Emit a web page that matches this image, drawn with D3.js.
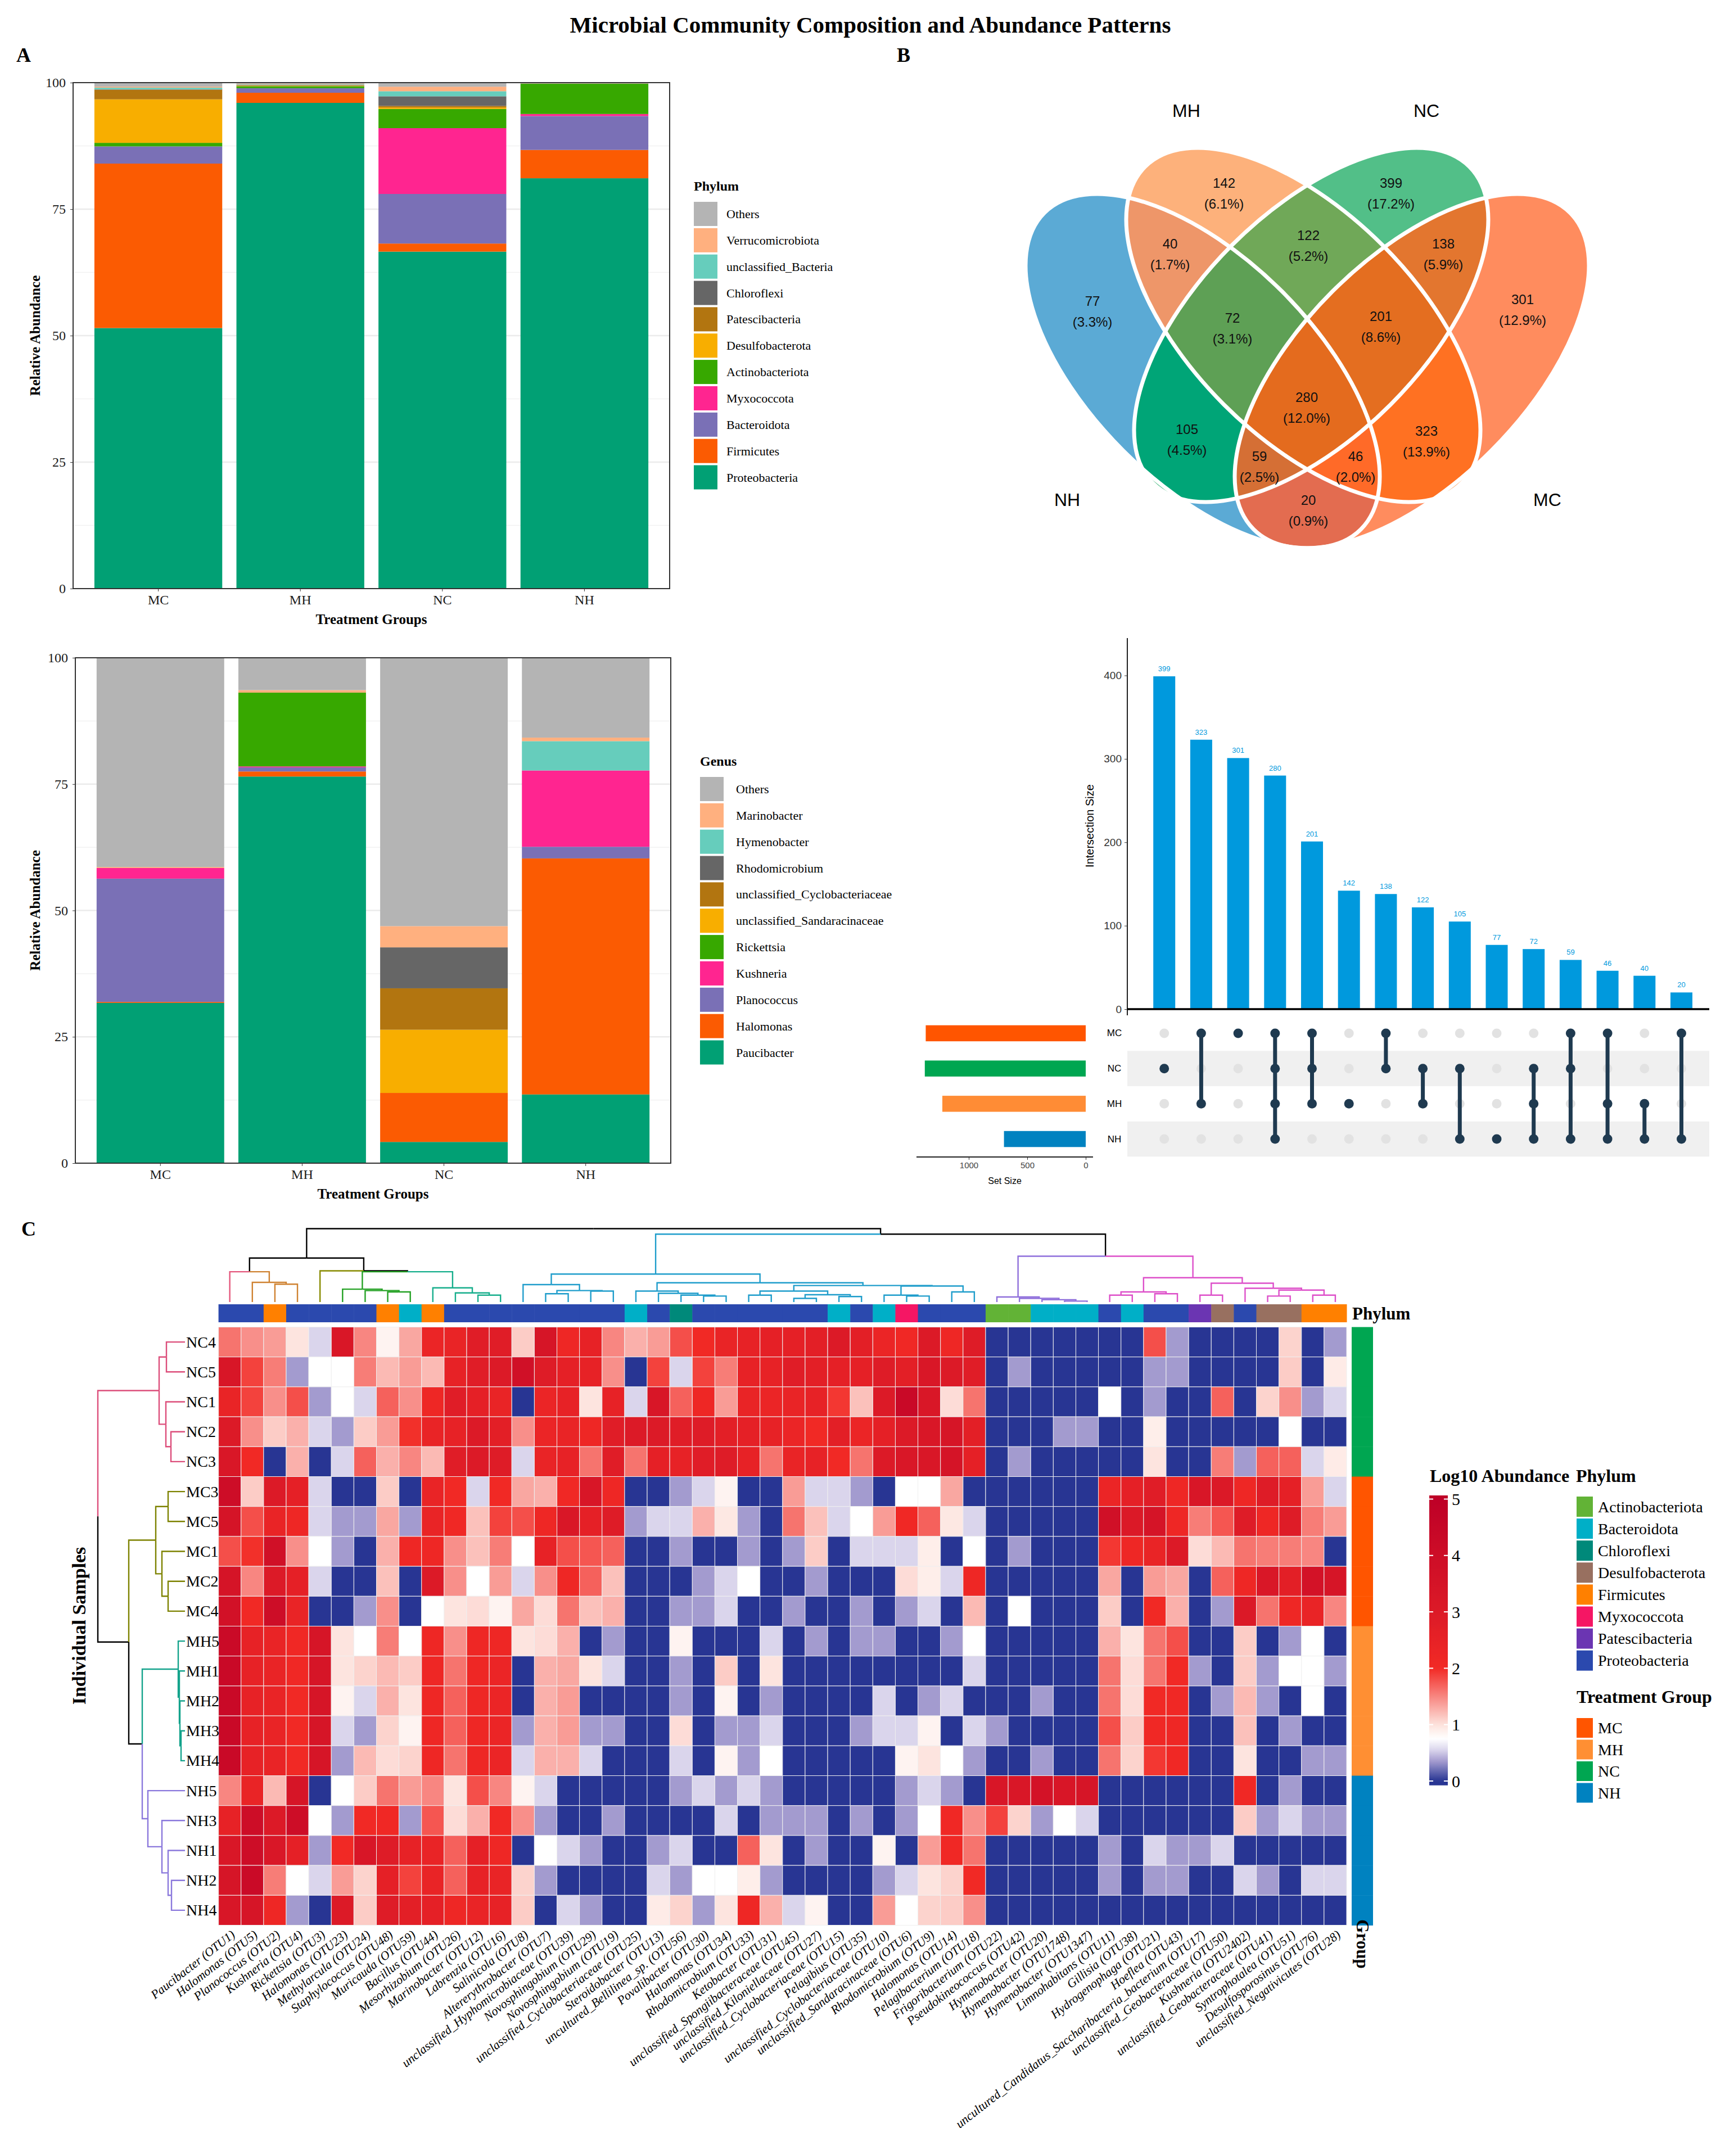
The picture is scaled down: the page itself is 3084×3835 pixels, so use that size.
<!DOCTYPE html>
<html>
<head>
<meta charset="utf-8">
<script src="https://cdn.jsdelivr.net/npm/d3@7"></script>
<style>
body { margin: 0; background: #fff; }
svg { display: block; }
</style>
</head>
<body>
<script>
// ---------------- data ----------------
const groups = ["MC", "MH", "NC", "NH"];

// phylum relative abundance (%), order MC, MH, NC, NH
const pProteobacteria = [51.5, 96.0, 66.6, 81.1];
const pFirmicutes = [32.5, 2.0, 1.6, 5.6];
const pBacteroidota = [3.4, 0.9, 9.8, 6.7];
const pMyxococcota = [0.0, 0.0, 13.0, 0.4];
const pActinobacteriota = [0.7, 0.4, 3.8, 6.0];
const pDesulfobacterota = [8.6, 0.1, 0.3, 0.0];
const pPatescibacteria = [1.9, 0.1, 0.3, 0.0];
const pChloroflexi = [0.1, 0.1, 1.9, 0.0];
const pUnclassifiedBacteria = [0.3, 0.1, 1.0, 0.0];
const pVerrucomicrobiota = [0.2, 0.1, 0.9, 0.05];
const pOthers = [0.8, 0.2, 0.8, 0.15];

// genus relative abundance (%)
const gPaucibacter = [31.7, 76.5, 4.2, 13.6];
const gHalomonas = [0.2, 1.0, 9.7, 46.7];
const gPlanococcus = [24.4, 0.8, 0.0, 2.3];
const gKushneria = [2.1, 0.2, 0.0, 15.1];
const gRickettsia = [0.0, 14.6, 0.0, 0.0];
const gSandaracinaceae = [0.0, 0.0, 12.5, 0.0];
const gCyclobacteriaceae = [0.0, 0.0, 8.2, 0.0];
const gRhodomicrobium = [0.0, 0.0, 8.1, 0.0];
const gHymenobacter = [0.0, 0.0, 0.0, 5.8];
const gMarinobacter = [0.2, 0.5, 4.2, 0.7];
const gOthers = [41.4, 6.4, 53.1, 15.8];

const stackPalette = ["#01A074", "#FB5B02", "#7A70B6", "#FF2590", "#37A800", "#F8AE00",
                      "#B27510", "#666666", "#66CDBC", "#FFB07F", "#B4B4B4"];

// venn / upset
const vennRegions = ["NH", "MH", "NC", "MC", "NH&MH", "MH&NC", "NC&MC", "NH&MH&NC", "MH&NC&MC",
                     "NH&NC", "MH&MC", "NH&MH&NC&MC", "NH&NC&MC", "NH&MH&MC", "NH&MC"];
const vennCounts = [77, 142, 399, 301, 40, 122, 138, 72, 201, 105, 323, 280, 59, 46, 20];
const vennFills = ["#5BAAD5", "#FDB17B", "#52BF88", "#FF8C5E", "#EE9669", "#70A858", "#E3762F", "#5EA055",
                   "#E46E20", "#00A577", "#FF7122", "#E46B1E", "#D56F35", "#FF6A28", "#E36C50"];

const upsetSizes = [399, 323, 301, 280, 201, 142, 138, 122, 105, 77, 72, 59, 46, 40, 20];
const upsetMembers = [["NC"], ["MC", "MH"], ["MC"], ["MC", "NC", "MH", "NH"], ["MC", "NC", "MH"], ["MH"],
                      ["MC", "NC"], ["NC", "MH"], ["NC", "NH"], ["NH"], ["NC", "MH", "NH"], ["MC", "NC", "NH"],
                      ["MC", "MH", "NH"], ["MH", "NH"], ["MC", "NH"]];
const setNames = ["MC", "NC", "MH", "NH"];
const setSizes = [1368, 1376, 1226, 699];
const setColors = ["#FF5500", "#00A651", "#FF8C35", "#0082C0"];

// heatmap
const sampleNames = ["NC4", "NC5", "NC1", "NC2", "NC3", "MC3", "MC5", "MC1", "MC2", "MC4",
                     "MH5", "MH1", "MH2", "MH3", "MH4", "NH5", "NH3", "NH1", "NH2", "NH4"];
const otuLabels = ["Paucibacter (OTU1)", "Halomonas (OTU5)", "Planococcus (OTU2)", "Kushneria (OTU4)", "Rickettsia (OTU3)",
  "Halomonas (OTU23)", "Methylarcula (OTU24)", "Staphylococcus (OTU48)", "Muricauda (OTU59)", "Bacillus (OTU44)",
  "Mesorhizobium (OTU26)", "Marinobacter (OTU12)", "Labrenzia (OTU16)", "Salinicola (OTU8)", "Altererythrobacter (OTU7)",
  "unclassified_Hyphomicrobiaceae (OTU39)", "Novosphingobium (OTU29)", "Novosphingobium (OTU19)",
  "unclassified_Cyclobacteriaceae (OTU25)", "Steroidobacter (OTU13)", "uncultured_Bellilinea_sp. (OTU56)",
  "Povalibacter (OTU30)", "Halomonas (OTU34)", "Rhodomicrobium (OTU33)", "Ketobacter (OTU31)",
  "unclassified_Spongiibacteraceae (OTU45)", "unclassified_Kiloniellaceae (OTU27)", "unclassified_Cyclobacteriaceae (OTU15)",
  "Pelagibius (OTU35)", "unclassified_Cyclobacteriaceae (OTU10)", "unclassified_Sandaracinaceae (OTU6)",
  "Rhodomicrobium (OTU9)", "Halomonas (OTU14)", "Pelagibacterium (OTU18)", "Frigoribacterium (OTU22)",
  "Pseudokineococcus (OTU42)", "Hymenobacter (OTU20)", "Hymenobacter (OTU1748)", "Hymenobacter (OTU1347)",
  "Limnohabitans (OTU11)", "Gillisia (OTU38)", "Hydrogenophaga (OTU21)", "Hoeflea (OTU43)",
  "uncultured_Candidatus_Saccharibacteria_bacterium (OTU17)", "unclassified_Geobacteraceae (OTU50)",
  "Kushneria (OTU2402)", "unclassified_Geobacteraceae (OTU41)", "Syntrophotalea (OTU51)",
  "Desulfosporosinus (OTU76)", "unclassified_Negativicutes (OTU28)"];
const otuPhylum = ["Proteobacteria", "Proteobacteria", "Firmicutes", "Proteobacteria", "Proteobacteria",
  "Proteobacteria", "Proteobacteria", "Firmicutes", "Bacteroidota", "Firmicutes",
  "Proteobacteria", "Proteobacteria", "Proteobacteria", "Proteobacteria", "Proteobacteria",
  "Proteobacteria", "Proteobacteria", "Proteobacteria", "Bacteroidota", "Proteobacteria",
  "Chloroflexi", "Proteobacteria", "Proteobacteria", "Proteobacteria", "Proteobacteria",
  "Proteobacteria", "Proteobacteria", "Bacteroidota", "Proteobacteria", "Bacteroidota",
  "Myxococcota", "Proteobacteria", "Proteobacteria", "Proteobacteria", "Actinobacteriota",
  "Actinobacteriota", "Bacteroidota", "Bacteroidota", "Bacteroidota", "Proteobacteria",
  "Bacteroidota", "Proteobacteria", "Proteobacteria", "Patescibacteria", "Desulfobacterota",
  "Proteobacteria", "Desulfobacterota", "Desulfobacterota", "Firmicutes", "Firmicutes"];

// log10 abundance, one row per sample (sampleNames order), one value per OTU (otuLabels order)
const log10Abundance = [
  [1.6, 1.45, 1.38, 0.98, 0.55, 3.2, 1.5, 0.85, 1.32, 2.3, 2.4, 2.8, 2.8, 1.12, 3.4, 2.2, 2.5, 1.5, 1.27, 1.38, 1.8, 2.05, 2.4, 2.5, 2.6, 2.6, 2.7, 3.0, 2.7, 2.3, 2.1, 3.0, 2.2, 2.9, 0, 0, 0, 0, 0, 0, 0, 1.8, 0.35, 0, 0, 0, 0, 1.08, 0, 0.35],
  [3.3, 1.87, 1.55, 0.35, 0.75, 0.75, 1.55, 1.22, 1.38, 1.22, 2.5, 2.8, 3.0, 3.8, 2.9, 2.6, 2.5, 1.45, 0, 1.87, 0.55, 1.87, 1.55, 2.5, 2.5, 2.8, 2.7, 2.6, 2.6, 2.9, 2.7, 3.2, 3.0, 2.8, 0, 0.35, 0, 0, 0, 0, 0, 0.35, 0.35, 0, 0, 0, 0, 1.12, 0, 0.92],
  [2.4, 1.87, 1.45, 1.8, 0.35, 0.75, 0.55, 1.7, 1.45, 2.2, 2.8, 2.6, 2.4, 0, 2.3, 2.5, 0.98, 2.5, 0.55, 3.3, 1.7, 2.2, 1.38, 2.4, 2.3, 2.4, 2.5, 1.93, 1.18, 3.0, 4.3, 3.2, 1.03, 1.6, 0, 0, 0, 0, 0, 0.75, 0, 0.35, 0, 0, 1.7, 0, 1.08, 1.45, 0.35, 0.55],
  [3.0, 1.45, 1.12, 1.27, 0.55, 0.35, 1.12, 1.38, 1.97, 2.4, 2.5, 3.0, 2.7, 1.45, 2.3, 2.4, 2.2, 2.8, 3.0, 3.0, 2.8, 2.9, 2.7, 2.6, 2.5, 2.3, 2.05, 2.7, 2.3, 2.6, 3.0, 3.2, 3.4, 2.7, 0, 0, 0, 0.35, 0.35, 0, 0, 0.9, 0, 0, 0, 0, 0, 0.75, 0, 0],
  [3.2, 2.05, 0, 1.27, 0, 0.55, 1.7, 1.27, 1.5, 1.22, 2.8, 3.0, 2.9, 0.55, 2.4, 2.5, 1.6, 2.8, 1.6, 2.6, 2.5, 2.8, 2.9, 2.5, 1.6, 2.4, 2.5, 2.05, 1.6, 3.0, 3.2, 3.2, 3.5, 2.6, 0, 0.35, 0, 0, 0, 0, 0, 0.98, 0, 0, 1.55, 0.35, 1.7, 1.7, 0.55, 0.92],
  [4.0, 1.12, 3.0, 2.6, 0.55, 0, 0, 1.12, 0, 2.4, 2.05, 0.55, 2.05, 1.32, 1.27, 2.1, 3.3, 2.2, 0, 0, 0.35, 0.55, 0.85, 0, 0, 1.38, 0.55, 0.55, 0.35, 0, 0.75, 0.75, 1.32, 0, 0, 0, 0, 0, 0, 2.3, 2.6, 2.8, 2.2, 3.3, 3.1, 2.2, 2.9, 2.6, 1.38, 0.55],
  [3.5, 1.8, 2.4, 2.2, 0.55, 0.35, 0.35, 1.32, 0.35, 2.4, 2.1, 1.18, 1.87, 1.8, 2.2, 3.2, 2.6, 2.9, 0.35, 0.55, 0.55, 1.27, 0.95, 0.35, 0, 1.6, 1.18, 0.55, 0.75, 1.38, 2.1, 1.7, 0.95, 0.55, 0, 0, 0, 0, 0, 3.8, 3.1, 3.5, 2.2, 1.55, 1.76, 2.9, 2.2, 2.9, 1.55, 1.38],
  [1.8, 1.97, 3.8, 1.45, 0.75, 0.35, 0, 1.27, 2.2, 2.2, 1.45, 1.18, 1.55, 0.75, 2.5, 1.8, 1.76, 1.7, 0, 0, 0.35, 0, 0, 0.35, 0, 0.35, 1.12, 0, 0.55, 0.55, 0.55, 0.9, 0, 0.75, 0, 0.35, 0, 0, 0, 1.93, 2.2, 2.4, 3.0, 1.03, 1.22, 1.6, 1.55, 1.55, 1.5, 0],
  [3.5, 1.5, 3.0, 2.6, 0.55, 0, 0, 1.18, 0, 3.0, 1.45, 0.75, 1.38, 0.55, 1.45, 2.2, 1.7, 1.18, 0, 0, 0, 0.35, 0.55, 0.75, 0, 0, 0.35, 0, 0, 0, 1.03, 0.9, 0.55, 2.2, 0, 0, 0, 0, 0, 1.32, 0, 1.38, 1.32, 0, 1.7, 2.2, 3.2, 2.7, 3.6, 3.4],
  [3.7, 2.05, 4.0, 2.4, 0, 0, 0.35, 1.45, 0, 0.75, 0.98, 1.03, 0.85, 1.32, 1.03, 1.6, 1.18, 1.27, 0, 0, 0.35, 0.35, 0.55, 0, 0, 0.35, 0, 0, 0.35, 0, 0.35, 0.55, 0, 1.22, 0, 0.75, 0, 0, 0, 1.12, 0, 2.05, 1.27, 0, 0.35, 3.1, 1.6, 2.2, 2.4, 1.5],
  [4.2, 2.5, 2.4, 2.1, 3.4, 0.98, 0.75, 1.55, 0.75, 2.2, 1.45, 2.2, 2.2, 0.98, 1.03, 1.27, 0, 0.35, 0, 0, 0.85, 0, 0, 0, 0.55, 0, 0.35, 0, 0.35, 0.35, 0, 0, 0.35, 0.75, 0, 0, 0, 0, 0, 1.27, 0.98, 1.6, 1.8, 0, 0, 1.12, 0, 0.35, 0.75, 0],
  [4.3, 2.5, 2.4, 2.1, 3.4, 0.98, 1.08, 1.22, 1.12, 2.2, 1.6, 2.2, 2.3, 0, 1.27, 1.32, 0.98, 0.55, 0, 0, 0.35, 0, 1.12, 0, 0.98, 0, 0, 0, 0, 0, 0, 0, 0, 0.55, 0, 0, 0, 0, 0, 1.6, 1.03, 1.6, 2.05, 0.35, 0, 1.12, 0.35, 0.75, 0.75, 0.35],
  [4.3, 2.5, 2.4, 2.05, 3.4, 0.85, 0.55, 1.27, 0.98, 2.2, 1.7, 2.2, 2.3, 0, 1.27, 1.38, 0, 0, 0, 0, 0.35, 0, 0.85, 0, 0.35, 0, 0, 0, 0, 0.55, 0, 0.35, 0.55, 0, 0, 0, 0.35, 0, 0, 1.6, 1.03, 2.05, 2.1, 0, 0.35, 1.22, 0.35, 0, 0.75, 0],
  [4.3, 2.5, 2.4, 2.05, 3.4, 0.55, 0.35, 1.08, 0.85, 2.2, 1.7, 2.2, 2.3, 0.35, 1.27, 1.38, 0.35, 0.35, 0, 0, 1.03, 0, 0.35, 0.35, 0.55, 0, 0, 0, 0.35, 0.55, 0.55, 0.85, 0, 0.55, 0.35, 0, 0, 0, 0, 1.8, 1.12, 2.1, 2.2, 0, 0, 1.18, 0, 0.35, 0, 0],
  [4.3, 2.5, 2.4, 2.05, 3.4, 0.35, 1.22, 1.03, 1.08, 2.2, 1.6, 2.2, 2.3, 0.55, 1.27, 1.27, 0.55, 0, 0, 0, 0.55, 0, 0.85, 0.35, 0.75, 0, 0, 0, 0, 0, 0.85, 0.98, 0.75, 0.35, 0, 0, 0.35, 0, 0, 1.6, 1.08, 1.93, 2.1, 0, 0, 0.98, 0, 0, 0.35, 0.35],
  [1.5, 2.4, 1.22, 3.4, 0, 0.75, 1.12, 1.6, 1.38, 1.5, 0.98, 1.8, 1.5, 0.85, 0.55, 0, 0, 0, 0, 0, 0.35, 0.55, 0.35, 0.55, 0.35, 0, 0, 0, 0, 0, 0.35, 0.55, 0.35, 0, 3.3, 3.2, 3.6, 3.3, 3.4, 0, 0, 0, 0, 0, 0, 2.1, 0, 0.35, 0, 0],
  [2.5, 4.0, 3.0, 4.0, 0.75, 0.35, 2.05, 2.1, 0.35, 1.76, 1.03, 1.27, 2.05, 1.45, 0.35, 0, 0, 0.35, 0, 0, 0, 0, 0.55, 0, 0.35, 0.35, 0.35, 0, 0.35, 0, 0.35, 0.75, 2.1, 1.45, 1.87, 1.08, 0.35, 0.75, 0.55, 0, 0, 0, 0, 0, 0, 1.12, 0.35, 0.55, 0.35, 0.35],
  [3.2, 4.0, 3.2, 2.6, 0.35, 2.05, 3.3, 2.9, 2.5, 2.4, 1.7, 2.6, 2.2, 0, 0.75, 0.55, 0.35, 0, 0, 0.35, 0.55, 0, 0, 1.7, 0.98, 0, 0.35, 0, 0, 0.85, 0, 1.38, 2.1, 1.6, 0, 0, 0, 0, 0, 0.35, 0, 0.55, 0.35, 0.35, 0.55, 0, 0, 0, 0, 0],
  [3.4, 4.2, 1.55, 0.75, 0.55, 1.38, 1.08, 2.6, 1.87, 2.4, 1.7, 2.5, 2.4, 1.08, 0.35, 0, 0, 0, 0, 0.55, 0.35, 0.75, 0.75, 0.9, 0.35, 0, 0, 0, 0, 0.35, 0.55, 0.98, 1.08, 2.05, 0, 0, 0, 0, 0, 0.35, 0, 0.35, 0.35, 0, 0, 0.55, 0.35, 0, 0.55, 0.55],
  [3.3, 3.4, 2.2, 0.35, 0, 3.0, 1.12, 2.9, 2.7, 2.6, 2.2, 2.4, 2.5, 1.12, 0, 0.55, 0.35, 0, 0, 0.92, 1.08, 0.35, 0.98, 2.2, 1.27, 0.55, 0.85, 0, 0, 1.38, 0.75, 1.08, 1.12, 1.45, 0, 0, 0, 0, 0, 0, 0, 0, 0, 0, 0, 0, 0, 0, 0, 0]
];

// clustering trees (h = merge height)
const colTree = {h: 160, c: [
  {h: 96, c: [
    {h: 66, c: [0, {h: 43, c: [1, {h: 39, c: [2, 3]}]}]},
    {h: 68, c: [4, {h: 66, c: [
      {h: 28, c: [5, {h: 25, c: [6, {h: 22, c: [7, 8]}]}]},
      {h: 31, c: [9, {h: 20, c: [10, {h: 15, c: [11, 12]}]}]}]}]}]},
  {h: 148, c: [
    {h: 61, c: [
      {h: 38, c: [13, {h: 25, c: [{h: 18, c: [14, 15]}, {h: 24, c: [16, 17]}]}]},
      {h: 42, c: [
        {h: 24, c: [18, {h: 19, c: [19, {h: 15, c: [20, {h: 13, c: [21, 22]}]}]}]},
        {h: 36, c: [
          {h: 24, c: [{h: 15, c: [23, 24]}, {h: 16, c: [{h: 8, c: [25, 26]}, {h: 12, c: [27, 28]}]}]},
          {h: 35, c: [{h: 15, c: [29, {h: 13, c: [30, 31]}]}, {h: 22, c: [32, 33]}]}]}]}]},
    {h: 100, c: [
      {h: 11, c: [34, {h: 8, c: [35, {h: 5, c: [36, {h: 2, c: [37, 38]}]}]}]},
      {h: 53, c: [
        {h: 22, c: [{h: 15, c: [39, 40]}, {h: 18, c: [41, 42]}]},
        {h: 41, c: [{h: 15, c: [43, 44]}, {h: 30, c: [45, {h: 26, c: [{h: 13, c: [46, 47]}, {h: 15, c: [48, 49]}]}]}]}]}]}]}]};
const colCluster = [0, 1, 1, 1, 2, 3, 3, 3, 3, 4, 4, 4, 4, 5, 5, 5, 5, 5, 5, 5, 5, 5, 5, 5, 5, 5, 5, 5, 5, 5, 5, 5, 5, 5,
                    6, 6, 6, 6, 6, 7, 7, 7, 7, 7, 7, 7, 7, 7, 7, 7];
const colClusterColors = ["#E4577C", "#CF8231", "#878A00", "#24A124", "#16AE8C", "#1F9DCB", "#8F6FDB", "#DD4FC9"];

const rowTree = {h: 155, c: [
  {h: 46, c: [{h: 33, c: ["NC4", "NC5"]}, {h: 34, c: ["NC1", {h: 25, c: ["NC2", "NC3"]}]}]},
  {h: 100, c: [
    {h: 52, c: [{h: 30, c: ["MC3", "MC5"]}, {h: 41, c: ["MC1", {h: 30, c: ["MC2", "MC4"]}]}]},
    {h: 76, c: [
      {h: 12, c: ["MH5", {h: 10, c: ["MH1", {h: 9, c: ["MH2", {h: 7, c: ["MH3", "MH4"]}]}]}]},
      {h: 66, c: ["NH5", {h: 41, c: ["NH3", {h: 30, c: ["NH1", {h: 24, c: ["NH2", "NH4"]}]}]}]}]}]}]};
const rowClusterColors = {NC: "#DC4D7A", MC: "#7D8200", MH: "#14A38C", NH: "#8A78DC"};

const phylumColors = {Actinobacteriota: "#62B336", Bacteroidota: "#00AFC7", Chloroflexi: "#00897A",
  Desulfobacterota: "#987060", Firmicutes: "#FF8000", Myxococcota: "#F51664",
  Patescibacteria: "#6B35B2", Proteobacteria: "#2B49AE"};
const groupColors = {MC: "#FF5500", MH: "#FF8F33", NC: "#00A651", NH: "#0082C0"};

// ---------------- page ----------------
const W = 3084, H = 3835;
const serif = "'Liberation Serif','Times New Roman',serif";
const sans = "'Liberation Sans',Arial,Helvetica,sans-serif";

const svg = d3.select("body").append("svg")
  .attr("width", W).attr("height", H)
  .style("background", "#fff");

svg.append("text")
  .attr("x", 1548).attr("y", 58)
  .attr("text-anchor", "middle")
  .style("font-family", serif).style("font-weight", "bold").style("font-size", "41px")
  .text("Microbial Community Composition and Abundance Patterns");

function panelLetter(t, x, y) {
  svg.append("text").attr("x", x).attr("y", y)
    .style("font-family", serif).style("font-weight", "bold").style("font-size", "36px")
    .text(t);
}
panelLetter("A", 29, 110);
panelLetter("B", 1595, 110);
panelLetter("C", 38, 2198);

// ---------------- stacked bar panels ----------------
function stackedBars(cfg) {
  const g = svg.append("g");
  const x = d3.scaleBand().domain(groups).range([cfg.left, cfg.right]).paddingInner(0.1).paddingOuter(0.15);
  const y = d3.scaleLinear().domain([0, 100]).range([cfg.bottom, cfg.top]);

  g.selectAll("line.minor").data([12.5, 37.5, 62.5, 87.5]).join("line")
    .attr("x1", cfg.left).attr("x2", cfg.right)
    .attr("y1", d => y(d)).attr("y2", d => y(d))
    .attr("stroke", "#F2F2F2").attr("stroke-width", 1.5);
  g.selectAll("line.major").data([25, 50, 75]).join("line")
    .attr("x1", cfg.left).attr("x2", cfg.right)
    .attr("y1", d => y(d)).attr("y2", d => y(d))
    .attr("stroke", "#EBEBEB").attr("stroke-width", 2.5);

  const table = groups.map((grp, i) => {
    const row = {group: grp};
    cfg.series.forEach(s => { row[s.name] = s.values[i]; });
    return row;
  });
  const stacked = d3.stack().keys(cfg.series.map(s => s.name))(table);

  g.selectAll("g.layer").data(stacked).join("g")
    .attr("fill", (d, i) => cfg.series[i].color)
    .selectAll("rect").data(d => d).join("rect")
    .attr("x", d => x(d.data.group))
    .attr("width", x.bandwidth())
    .attr("y", d => y(d[1]))
    .attr("height", d => Math.max(0, y(d[0]) - y(d[1])));

  g.append("rect")
    .attr("x", cfg.left).attr("y", cfg.top)
    .attr("width", cfg.right - cfg.left).attr("height", cfg.bottom - cfg.top)
    .attr("fill", "none").attr("stroke", "#333").attr("stroke-width", 2);

  const ay = g.append("g").attr("transform", `translate(${cfg.left},0)`)
    .call(d3.axisLeft(y).tickValues([0, 25, 50, 75, 100]).tickSize(5).tickPadding(8));
  ay.select(".domain").remove();
  ay.selectAll("line").attr("stroke", "#333");
  ay.selectAll("text").style("font-family", serif).style("font-size", "24px").attr("fill", "#1a1a1a");

  const ax = g.append("g").attr("transform", `translate(0,${cfg.bottom})`)
    .call(d3.axisBottom(x).tickSize(5).tickPadding(6));
  ax.select(".domain").remove();
  ax.selectAll("line").attr("stroke", "#333");
  ax.selectAll("text").style("font-family", serif).style("font-size", "24px").attr("fill", "#1a1a1a");

  g.append("text")
    .attr("x", (cfg.left + cfg.right) / 2).attr("y", cfg.bottom + 63)
    .attr("text-anchor", "middle")
    .style("font-family", serif).style("font-weight", "bold").style("font-size", "25px")
    .text("Treatment Groups");
  g.append("text")
    .attr("transform", `translate(62,${(cfg.top + cfg.bottom) / 2}) rotate(-90)`)
    .attr("text-anchor", "middle").attr("dominant-baseline", "central")
    .style("font-family", serif).style("font-weight", "bold").style("font-size", "25px")
    .text("Relative Abundance");

  // legend (top entry = last stacked series)
  const lg = g.append("g");
  lg.append("text").attr("x", cfg.legendX).attr("y", cfg.legendY - 20)
    .style("font-family", serif).style("font-weight", "bold").style("font-size", "24px")
    .text(cfg.legendTitle);
  const items = cfg.series.slice().reverse();
  const ly = d3.scaleBand().domain(items.map(d => d.name))
    .range([cfg.legendY, cfg.legendY + 46.85 * items.length]);
  lg.selectAll("rect").data(items).join("rect")
    .attr("x", cfg.legendX).attr("y", d => ly(d.name))
    .attr("width", 42).attr("height", 43)
    .attr("fill", d => d.color);
  lg.selectAll("text.lab").data(items).join("text")
    .attr("class", "lab")
    .attr("x", cfg.legendTextX).attr("y", d => ly(d.name) + 21.5)
    .attr("dominant-baseline", "central")
    .style("font-family", serif).style("font-size", "22px")
    .text(d => d.label || d.name);
}

const phylumSeries = [
  {name: "Proteobacteria", values: pProteobacteria},
  {name: "Firmicutes", values: pFirmicutes},
  {name: "Bacteroidota", values: pBacteroidota},
  {name: "Myxococcota", values: pMyxococcota},
  {name: "Actinobacteriota", values: pActinobacteriota},
  {name: "Desulfobacterota", values: pDesulfobacterota},
  {name: "Patescibacteria", values: pPatescibacteria},
  {name: "Chloroflexi", values: pChloroflexi},
  {name: "unclassified_Bacteria", values: pUnclassifiedBacteria},
  {name: "Verrucomicrobiota", values: pVerrucomicrobiota},
  {name: "Others", values: pOthers}
].map((s, i) => ({...s, color: stackPalette[i]}));

const genusSeries = [
  {name: "Paucibacter", values: gPaucibacter},
  {name: "Halomonas", values: gHalomonas},
  {name: "Planococcus", values: gPlanococcus},
  {name: "Kushneria", values: gKushneria},
  {name: "Rickettsia", values: gRickettsia},
  {name: "unclassified_Sandaracinaceae", values: gSandaracinaceae},
  {name: "unclassified_Cyclobacteriaceae", values: gCyclobacteriaceae},
  {name: "Rhodomicrobium", values: gRhodomicrobium},
  {name: "Hymenobacter", values: gHymenobacter},
  {name: "Marinobacter", values: gMarinobacter},
  {name: "Others", values: gOthers}
].map((s, i) => ({...s, color: stackPalette[i]}));

stackedBars({series: phylumSeries, left: 130, right: 1191, top: 147, bottom: 1047,
  legendTitle: "Phylum", legendX: 1234, legendY: 359, legendTextX: 1292});
stackedBars({series: genusSeries, left: 134, right: 1193, top: 1170, bottom: 2069,
  legendTitle: "Genus", legendX: 1245, legendY: 1382, legendTextX: 1309});

// ---------------- Venn ----------------
const vennShape = {
  NH: {cx: 2139, cy: 660, rot: 45},
  MH: {cx: 2318, cy: 578, rot: 45},
  NC: {cx: 2332, cy: 578, rot: -45},
  MC: {cx: 2511, cy: 660, rot: -45}
};
const vennRx = 398, vennRy = 200;
const vennKeys = ["NH", "MH", "NC", "MC"];
const defs = svg.append("defs");

vennKeys.forEach(k => {
  const e = vennShape[k];
  defs.append("clipPath").attr("id", "clip-" + k)
    .append("ellipse")
    .attr("cx", e.cx).attr("cy", e.cy).attr("rx", vennRx).attr("ry", vennRy)
    .attr("transform", `rotate(${e.rot},${e.cx},${e.cy})`);
});

const vg = svg.append("g");
vennRegions.forEach((reg, i) => {
  const ins = reg.split("&");
  const outs = vennKeys.filter(k => !ins.includes(k));
  const m = defs.append("mask").attr("id", "mask-" + i)
    .attr("maskUnits", "userSpaceOnUse").attr("x", 1600).attr("y", 150).attr("width", 1400).attr("height", 1000);
  m.append("rect").attr("x", 1600).attr("y", 150).attr("width", 1400).attr("height", 1000).attr("fill", "#fff");
  outs.forEach(k => {
    const e = vennShape[k];
    m.append("ellipse").attr("cx", e.cx).attr("cy", e.cy).attr("rx", vennRx).attr("ry", vennRy)
      .attr("transform", `rotate(${e.rot},${e.cx},${e.cy})`).attr("fill", "#000");
  });
  let node = vg.append("g").attr("mask", `url(#mask-${i})`);
  ins.forEach(k => { node = node.append("g").attr("clip-path", `url(#clip-${k})`); });
  node.append("rect").attr("x", 1600).attr("y", 150).attr("width", 1400).attr("height", 1000)
    .attr("fill", vennFills[i]);
});

vg.selectAll("ellipse.outline").data(vennKeys).join("ellipse")
  .attr("class", "outline")
  .attr("cx", k => vennShape[k].cx).attr("cy", k => vennShape[k].cy)
  .attr("rx", vennRx).attr("ry", vennRy)
  .attr("transform", k => `rotate(${vennShape[k].rot},${vennShape[k].cx},${vennShape[k].cy})`)
  .attr("fill", "none").attr("stroke", "#fff").attr("stroke-width", 7);

// label anchor of each region = deepest interior point on a sample grid
function insideEllipse(k, px, py) {
  const e = vennShape[k];
  const a = e.rot * Math.PI / 180;
  const dx = px - e.cx, dy = py - e.cy;
  const u = dx * Math.cos(a) + dy * Math.sin(a);
  const v = -dx * Math.sin(a) + dy * Math.cos(a);
  return (u * u) / (vennRx * vennRx) + (v * v) / (vennRy * vennRy) <= 1;
}
const gx0 = 1700, gy0 = 200, step = 3, gnx = 420, gny = 280;
const codes = new Uint8Array(gnx * gny);
for (let j = 0; j < gny; j++) for (let i = 0; i < gnx; i++) {
  let c = 0;
  vennKeys.forEach((k, b) => { if (insideEllipse(k, gx0 + i * step, gy0 + j * step)) c |= (1 << b); });
  codes[j * gnx + i] = c;
}
function regionPole(code) {
  const d = new Float32Array(gnx * gny);
  for (let i = 0; i < d.length; i++) d[i] = codes[i] === code ? 1e9 : 0;
  for (let y = 0; y < gny; y++) for (let x = 0; x < gnx; x++) {
    const i = y * gnx + x; if (!d[i]) continue;
    let v = d[i];
    v = Math.min(v, x > 0 ? d[i - 1] + 1 : 1, y > 0 ? d[i - gnx] + 1 : 1);
    if (x > 0 && y > 0) v = Math.min(v, d[i - gnx - 1] + 1.414);
    if (x < gnx - 1 && y > 0) v = Math.min(v, d[i - gnx + 1] + 1.414);
    d[i] = v;
  }
  let best = -1, bi = 0;
  for (let y = gny - 1; y >= 0; y--) for (let x = gnx - 1; x >= 0; x--) {
    const i = y * gnx + x; if (!d[i]) continue;
    let v = d[i];
    v = Math.min(v, x < gnx - 1 ? d[i + 1] + 1 : 1, y < gny - 1 ? d[i + gnx] + 1 : 1);
    if (x < gnx - 1 && y < gny - 1) v = Math.min(v, d[i + gnx + 1] + 1.414);
    if (x > 0 && y < gny - 1) v = Math.min(v, d[i + gnx - 1] + 1.414);
    d[i] = v;
    if (v > best) { best = v; bi = i; }
  }
  return [gx0 + (bi % gnx) * step, gy0 + Math.floor(bi / gnx) * step];
}
const vennTotal = d3.sum(vennCounts);
const pctFmt = d3.format(".1f");
vennRegions.forEach((reg, i) => {
  const code = reg.split("&").reduce((c, k) => c | (1 << vennKeys.indexOf(k)), 0);
  const [px, py] = regionPole(code);
  const t = vg.append("text").attr("text-anchor", "middle")
    .style("font-family", sans).style("font-size", "24px").attr("fill", "#111");
  t.append("tspan").attr("x", px).attr("y", py - 10).text(vennCounts[i]);
  t.append("tspan").attr("x", px).attr("y", py + 27).text(`(${pctFmt(vennCounts[i] / vennTotal * 100)}%)`);
});
const vennNameOffset = {MH: [-208, -381], NC: [205, -381], NH: [-241, 229], MC: [241, 229]};
vennKeys.forEach(k => {
  vg.append("text")
    .attr("x", vennShape[k].cx + vennNameOffset[k][0])
    .attr("y", vennShape[k].cy + vennNameOffset[k][1])
    .attr("text-anchor", "middle").attr("dominant-baseline", "central")
    .style("font-family", sans).style("font-size", "32px")
    .text(k);
});

// ---------------- UpSet ----------------
const ug = svg.append("g");
const ux = d3.scaleBand().domain(d3.range(upsetSizes.length))
  .range([2037.85, 3023.35]).paddingInner(0.406).paddingOuter(0.203);
const uy = d3.scaleLinear().domain([0, 400]).range([1795, 1201.5]);
const urow = d3.scaleBand().domain(setNames).range([1806.6, 2057.4]);
const usz = d3.scaleLinear().domain([0, 1000]).range([1931, 1723]);
const dark = "#1F3A50";

ug.selectAll("rect.stripe").data(["NC", "NH"]).join("rect")
  .attr("x", 2005).attr("width", 1035)
  .attr("y", d => urow(d)).attr("height", urow.bandwidth())
  .attr("fill", "#F0F0F0");

ug.selectAll("rect.bar").data(upsetSizes).join("rect")
  .attr("x", (d, i) => ux(i)).attr("width", ux.bandwidth())
  .attr("y", d => uy(d)).attr("height", d => uy(0) - uy(d))
  .attr("fill", "#0099DD");
ug.selectAll("text.blab").data(upsetSizes).join("text")
  .attr("x", (d, i) => ux(i) + ux.bandwidth() / 2).attr("y", d => uy(d) - 9)
  .attr("text-anchor", "middle")
  .style("font-family", sans).style("font-size", "13px").attr("fill", "#0099DD")
  .text(d => d);

const uay = ug.append("g").attr("transform", "translate(2005,0)")
  .call(d3.axisLeft(uy).tickValues([0, 100, 200, 300, 400]).tickSize(5).tickPadding(5));
uay.select(".domain").remove();
uay.selectAll("line").attr("stroke", "#333");
uay.selectAll("text").style("font-family", sans).style("font-size", "19px").attr("fill", "#333");
ug.append("line").attr("x1", 2005).attr("x2", 2005).attr("y1", 1135).attr("y2", 1806)
  .attr("stroke", "#222").attr("stroke-width", 2);
ug.append("line").attr("x1", 2005).attr("x2", 3040).attr("y1", uy(0)).attr("y2", uy(0))
  .attr("stroke", "#000").attr("stroke-width", 3.5);
ug.append("text")
  .attr("transform", `translate(1938,1469) rotate(-90)`)
  .attr("text-anchor", "middle").attr("dominant-baseline", "central")
  .style("font-family", sans).style("font-size", "20px")
  .text("Intersection Size");

// matrix
const dots = [];
upsetMembers.forEach((mem, i) => setNames.forEach(s => dots.push({i, s, on: mem.includes(s)})));
ug.selectAll("circle.off").data(dots.filter(d => !d.on)).join("circle")
  .attr("cx", d => ux(d.i) + ux.bandwidth() / 2).attr("cy", d => urow(d.s) + urow.bandwidth() / 2)
  .attr("r", 8.5).attr("fill", "#E2E2E2");
ug.selectAll("line.link").data(upsetMembers.map((m, i) => ({i, m})).filter(d => d.m.length > 1)).join("line")
  .attr("x1", d => ux(d.i) + ux.bandwidth() / 2).attr("x2", d => ux(d.i) + ux.bandwidth() / 2)
  .attr("y1", d => d3.min(d.m, s => urow(s)) + urow.bandwidth() / 2)
  .attr("y2", d => d3.max(d.m, s => urow(s)) + urow.bandwidth() / 2)
  .attr("stroke", dark).attr("stroke-width", 7);
ug.selectAll("circle.on").data(dots.filter(d => d.on)).join("circle")
  .attr("cx", d => ux(d.i) + ux.bandwidth() / 2).attr("cy", d => urow(d.s) + urow.bandwidth() / 2)
  .attr("r", 8.5).attr("fill", dark);
ug.selectAll("text.rlab").data(setNames).join("text")
  .attr("x", 1982).attr("y", d => urow(d) + urow.bandwidth() / 2)
  .attr("text-anchor", "middle").attr("dominant-baseline", "central")
  .style("font-family", sans).style("font-size", "17px")
  .text(d => d);

// set sizes
ug.selectAll("rect.set").data(setSizes).join("rect")
  .attr("x", d => usz(d)).attr("width", d => usz(0) - usz(d))
  .attr("y", (d, i) => urow(setNames[i]) + urow.bandwidth() / 2 - 14.25).attr("height", 28.5)
  .attr("fill", (d, i) => setColors[i]);
const usa = ug.append("g").attr("transform", "translate(0,2058)")
  .call(d3.axisBottom(usz).tickValues([0, 500, 1000]).tickFormat(d3.format("d")).tickSize(5).tickPadding(4));
usa.select(".domain").remove();
usa.selectAll("line").attr("stroke", "#333");
usa.selectAll("text").style("font-family", sans).style("font-size", "15px").attr("fill", "#444");
ug.append("line").attr("x1", 1630).attr("x2", 1944).attr("y1", 2058).attr("y2", 2058)
  .attr("stroke", "#222").attr("stroke-width", 2);
ug.append("text").attr("x", 1787).attr("y", 2106).attr("text-anchor", "middle")
  .style("font-family", sans).style("font-size", "16px").text("Set Size");

// ---------------- heatmap ----------------
const hg = svg.append("g");
const hx = d3.scaleBand().domain(d3.range(otuLabels.length)).range([388.6, 2395]);
const hy = d3.scaleBand().domain(sampleNames).range([2360.5, 3424.5]);
const heatColor = d3.scaleLinear()
  .domain([0, 0.35, 0.55, 0.75, 1.0, 2.0, 3.0, 5.0])
  .range(["#283593", "#A39BCF", "#DAD5EC", "#FFFFFF", "#FDE2DC", "#F22A25", "#DC1A27", "#BE0027"])
  .clamp(true);

const cells = [];
log10Abundance.forEach((row, r) => row.forEach((v, c) => cells.push({r, c, v})));
hg.selectAll("rect.cell").data(cells).join("rect")
  .attr("x", d => hx(d.c)).attr("y", d => hy(sampleNames[d.r]))
  .attr("width", hx.bandwidth()).attr("height", hy.bandwidth())
  .attr("fill", d => heatColor(d.v))
  .attr("stroke", "#EFEFEF").attr("stroke-width", 1);

// phylum annotation
hg.selectAll("rect.ph").data(otuPhylum).join("rect")
  .attr("x", (d, i) => hx(i)).attr("width", hx.bandwidth() + 0.5)
  .attr("y", 2320).attr("height", 32)
  .attr("fill", d => phylumColors[d]);
hg.append("text").attr("x", 2405).attr("y", 2347)
  .style("font-family", serif).style("font-weight", "bold").style("font-size", "31px")
  .text("Phylum");

// group annotation
hg.selectAll("rect.grp").data(sampleNames).join("rect")
  .attr("x", 2404).attr("width", 38)
  .attr("y", d => hy(d)).attr("height", hy.bandwidth() + 0.5)
  .attr("fill", d => groupColors[d.slice(0, 2)]);
hg.append("text")
  .attr("transform", "translate(2423,3458) rotate(90)")
  .attr("text-anchor", "middle").attr("dominant-baseline", "central")
  .style("font-family", serif).style("font-weight", "bold").style("font-size", "31px")
  .text("Group");

// dendrograms
function layoutTree(node, leafPos) {
  if (typeof node !== "object") return {h: 0, pos: leafPos(node), leaves: [node]};
  const kids = node.c.map(k => layoutTree(k, leafPos));
  return {h: node.h, pos: d3.mean(kids, k => k.pos), kids, leaves: kids.flatMap(k => k.leaves)};
}
function collectSegs(n, out) {
  if (!n.kids) return out;
  n.kids.forEach(k => { out.push({parent: n, child: k}); collectSegs(k, out); });
  return out;
}
function clusterColor(leaves, clusterOf, palette) {
  const s = new Set(leaves.map(clusterOf));
  return s.size === 1 ? palette(leaves[0]) : "#000";
}

const colRoot = layoutTree(colTree, i => hx(i) + hx.bandwidth() / 2);
const colH = d3.scaleLinear().domain([0, 160]).range([2316, 2185.5]);
const colSegs = collectSegs(colRoot, []);
const colSegColor = d => clusterColor(d.child.leaves, i => colCluster[i], i => colClusterColors[colCluster[i]]);
hg.selectAll("path.cd").data(colSegs).join("path")
  .attr("d", d => `M${d.parent.pos},${colH(d.parent.h)}H${d.child.pos}V${colH(d.child.h)}`)
  .attr("fill", "none").attr("stroke", colSegColor).attr("stroke-width", 2.4);

const rowRoot = layoutTree(rowTree, s => hy(s) + hy.bandwidth() / 2);
const rowH = d3.scaleLinear().domain([0, 155]).range([329, 174]);
const rowSegs = collectSegs(rowRoot, []);
const rowSegColor = d => clusterColor(d.child.leaves, s => s.slice(0, 2), s => rowClusterColors[s.slice(0, 2)]);
hg.selectAll("path.rd").data(rowSegs).join("path")
  .attr("d", d => `M${rowH(d.parent.h)},${d.parent.pos}V${d.child.pos}H${rowH(d.child.h)}`)
  .attr("fill", "none").attr("stroke", rowSegColor).attr("stroke-width", 2.4);

// labels
hg.selectAll("text.rowlab").data(sampleNames).join("text")
  .attr("x", 331).attr("y", d => hy(d) + hy.bandwidth() / 2)
  .attr("dominant-baseline", "central")
  .style("font-family", serif).style("font-size", "28px")
  .text(d => d);
hg.selectAll("text.collab").data(otuLabels).join("text")
  .attr("transform", (d, i) => `translate(${hx(i) + hx.bandwidth() / 2 + 6},${3438}) rotate(-38)`)
  .attr("text-anchor", "end").attr("dy", "0.35em")
  .style("font-family", serif).style("font-style", "italic").style("font-size", "22px")
  .text(d => d);
hg.append("text")
  .attr("transform", "translate(140,2892) rotate(-90)")
  .attr("text-anchor", "middle").attr("dominant-baseline", "central")
  .style("font-family", serif).style("font-weight", "bold").style("font-size", "34px")
  .text("Individual Samples");

// colour bar legend
const cb = d3.scaleLinear().domain([0, 5]).range([3168, 2666.5]);
const cbLo = cb.invert(3175.7), cbHi = cb.invert(2660);
const grad = defs.append("linearGradient").attr("id", "cbgrad")
  .attr("x1", 0).attr("x2", 0).attr("y1", 1).attr("y2", 0);
d3.range(0, 1.0001, 0.01).forEach(t => {
  grad.append("stop").attr("offset", t).attr("stop-color", heatColor(cbLo + t * (cbHi - cbLo)));
});
hg.append("rect").attr("x", 2542).attr("y", 2660).attr("width", 33).attr("height", 515.7)
  .attr("fill", "url(#cbgrad)");
const cbTicks = [0, 1, 2, 3, 4, 5];
hg.selectAll("line.cbl").data(cbTicks).join("line")
  .attr("x1", 2542).attr("x2", 2549).attr("y1", d => cb(d)).attr("y2", d => cb(d))
  .attr("stroke", "#fff").attr("stroke-width", 2);
hg.selectAll("line.cbr").data(cbTicks).join("line")
  .attr("x1", 2568).attr("x2", 2575).attr("y1", d => cb(d)).attr("y2", d => cb(d))
  .attr("stroke", "#fff").attr("stroke-width", 2);
hg.selectAll("text.cbt").data(cbTicks).join("text")
  .attr("x", 2582).attr("y", d => cb(d)).attr("dominant-baseline", "central")
  .style("font-family", serif).style("font-size", "30px")
  .text(d => d);
hg.append("text").attr("x", 2543).attr("y", 2636)
  .style("font-family", serif).style("font-weight", "bold").style("font-size", "32px")
  .text("Log10 Abundance");

// phylum + group legends
const phyKeys = Object.keys(phylumColors);
const ply = d3.scaleBand().domain(phyKeys).range([2662, 2662 + 39.1 * phyKeys.length]);
hg.append("text").attr("x", 2803).attr("y", 2636)
  .style("font-family", serif).style("font-weight", "bold").style("font-size", "32px")
  .text("Phylum");
hg.selectAll("rect.plk").data(phyKeys).join("rect")
  .attr("x", 2804).attr("y", d => ply(d)).attr("width", 29).attr("height", 36)
  .attr("fill", d => phylumColors[d]);
hg.selectAll("text.plt").data(phyKeys).join("text")
  .attr("x", 2842).attr("y", d => ply(d) + 18).attr("dominant-baseline", "central")
  .style("font-family", serif).style("font-size", "28px")
  .text(d => d);

const grpKeys = Object.keys(groupColors);
const gly = d3.scaleBand().domain(grpKeys).range([3056, 3056 + 38.5 * grpKeys.length]);
hg.append("text").attr("x", 2804).attr("y", 3029)
  .style("font-family", serif).style("font-weight", "bold").style("font-size", "32px")
  .text("Treatment Group");
hg.selectAll("rect.glk").data(grpKeys).join("rect")
  .attr("x", 2804).attr("y", d => gly(d)).attr("width", 29).attr("height", 35)
  .attr("fill", d => groupColors[d]);
hg.selectAll("text.glt").data(grpKeys).join("text")
  .attr("x", 2842).attr("y", d => gly(d) + 17.5).attr("dominant-baseline", "central")
  .style("font-family", serif).style("font-size", "28px")
  .text(d => d);
</script>
</body>
</html>
